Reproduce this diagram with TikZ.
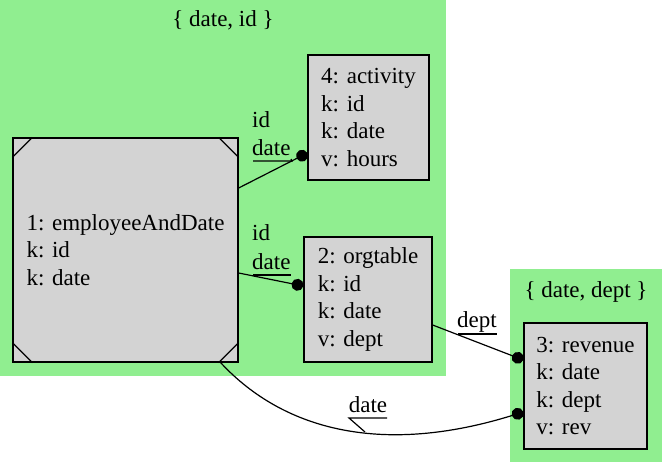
\documentclass[tikz,border=0pt]{standalone}
\usepackage{fontspec}
\setmainfont{Liberation Serif}
\usetikzlibrary{arrows.meta,calc}
\definecolor{clgreen}{HTML}{90EE90}
\definecolor{boxgray}{HTML}{D3D3D3}
\begin{document}
\begin{tikzpicture}[x=1pt,y=-1pt,
  every node/.style={font=\fontsize{23}{27.5}\selectfont, inner sep=0pt},
  rel/.style={draw, line width=1.3pt, fill=boxgray, align=left},
  conn/.style={line width=1.2pt, -{Circle[length=12pt,width=12pt]}},
  deco/.style={line width=1.2pt},
  lbl/.style={anchor=west}]
\useasboundingbox (0,0) rectangle (662,464);
% clusters
\fill[clgreen] (0,0) rectangle (446,376);
\fill[clgreen] (510,269) rectangle (662,462);
\node (c1) at (223,20) {\{ date, id \}};
\node (c2) at (586,292) {\{ date, dept \}};
% relation boxes
\node[rel, minimum width=225pt, minimum height=224pt] (n1) at (125.5,250) {1: employeeAndDate\\k: id\\k: date};
\draw[line width=1.3pt] ([yshift=-20pt]n1.north west) -- ([xshift=20pt]n1.north west)
  ([xshift=-20pt]n1.north east) -- ([yshift=-20pt]n1.north east)
  ([yshift=20pt]n1.south west) -- ([xshift=20pt]n1.south west)
  ([xshift=-20pt]n1.south east) -- ([yshift=20pt]n1.south east);
\node[rel, minimum width=121pt, minimum height=125pt] (n4) at (368.5,117.5) {4: activity\\k: id\\k: date\\v: hours};
\node[rel, minimum width=128pt, minimum height=125pt] (n2) at (368,299.5) {2: orgtable\\k: id\\k: date\\v: dept};
\node[rel, minimum width=123pt, minimum height=126pt] (n3) at (585.5,386) {3: revenue\\k: date\\k: dept\\v: rev};
% connectors
\draw[conn] ([yshift=62pt]n1.east) -- ([yshift=-35.5pt]n4.west);
\draw[conn] ([yshift=-23pt]n1.east) -- ([yshift=13.5pt]n2.west);
\draw[conn] ([yshift=-25.5pt]n2.east) -- ([yshift=26pt]n3.west);
\draw[conn] ([xshift=-18pt]n1.south east) .. controls (285,432) and (385,455) .. ([yshift=-26pt]n3.west);
% edge labels
\node[lbl] (l1a) at (252,120) {id};
\node[lbl] (l1b) at (252,148) {date};
\draw[deco] (253,161) -- (292,161) -- (291,159);
\node[lbl] (l2a) at (252,233) {id};
\node[lbl] (l2b) at (252,262) {date};
\draw[deco] (253,275) -- (291,275);
\node (l3) at (477,322) {dept};
\draw[deco] (458,334) -- (497,334);
\node (l4) at (368,405) {date};
\draw[deco] (387,418) -- (349,418) -- (365,432);
\end{tikzpicture}
\end{document}
